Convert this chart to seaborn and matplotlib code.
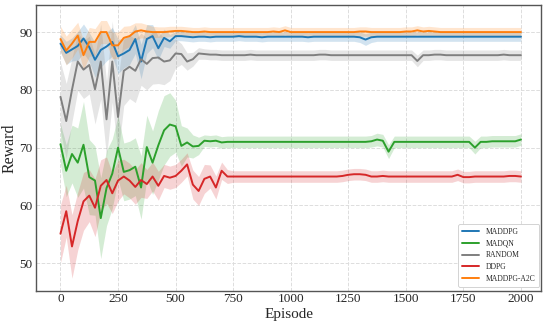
"""
Reward curves per algorithm over training episodes
- mean reward line per algorithm with a shaded spread band
- saves out.png
"""

import numpy as np
import pandas as pd
import matplotlib
matplotlib.use("Agg")
import matplotlib.pyplot as plt
import seaborn as sns

# -----------------------------
# Data (one point every 25 episodes)
# -----------------------------
episodes = list(range(0, 2001, 25))
algorithms = ["MADDPG", "MADQN", "RANDOM", "DDPG", "MADDPG-A2C"]
colors = ["#1f77b4", "#2ca02c", "#7f7f7f", "#d62728", "#ff7f0e"]

maddpg = [
    88.0, 86.4, 87.0, 87.6, 88.9, 87.4, 85.2, 86.9, 87.5, 88.3,
    85.8, 86.3, 86.9, 88.8, 84.9, 88.8, 89.3, 87.2, 89.0, 88.4,
    89.3, 89.3, 89.2, 89.1, 89.2, 89.2, 89.1, 89.2, 89.2, 89.2,
    89.2, 89.3, 89.2, 89.2, 89.2, 89.1, 89.2, 89.2, 89.2, 89.2,
    89.2, 89.2, 89.2, 89.1, 89.2, 89.2, 89.2, 89.2, 89.2, 89.2,
    89.2, 89.2, 89.1, 88.7, 89.1, 89.2, 89.2, 89.2, 89.2, 89.2,
    89.2, 89.2, 89.2, 89.2, 89.2, 89.2, 89.2, 89.2, 89.2, 89.2,
    89.2, 89.2, 89.2, 89.2, 89.2, 89.2, 89.2, 89.2, 89.2, 89.2,
    89.2,
]
madqn = [
    70.6, 66.0, 68.9, 67.4, 70.5, 64.9, 64.3, 57.8, 63.0, 65.5,
    70.0, 65.8, 66.1, 66.7, 63.1, 70.1, 67.4, 70.4, 73.0, 74.0,
    73.7, 70.3, 70.9, 70.2, 70.3, 71.2, 71.1, 71.2, 70.9, 71.0,
    71.0, 71.0, 71.0, 71.0, 71.0, 71.0, 71.0, 71.0, 71.0, 71.0,
    71.0, 71.0, 71.0, 71.0, 71.0, 71.0, 71.0, 71.0, 71.0, 71.0,
    71.0, 71.0, 71.0, 71.0, 71.1, 71.4, 71.2, 69.3, 71.0, 71.0,
    71.0, 71.0, 71.0, 71.0, 71.0, 71.0, 71.0, 71.0, 71.0, 71.0,
    71.0, 71.0, 70.0, 71.0, 71.0, 71.1, 71.1, 71.1, 71.1, 71.1,
    71.4,
]
random_policy = [
    78.8, 74.6, 80.0, 84.9, 83.5, 84.3, 80.1, 84.9, 74.9, 84.9,
    75.3, 83.3, 84.0, 83.3, 85.3, 84.5, 85.5, 85.6, 84.9, 85.1,
    86.3, 86.2, 84.9, 85.3, 86.3, 86.2, 86.1, 86.1, 86.0, 86.0,
    86.0, 86.0, 86.0, 86.1, 86.0, 86.0, 86.0, 86.0, 86.0, 86.0,
    86.0, 86.0, 86.0, 86.0, 86.0, 86.1, 86.1, 86.0, 86.0, 86.0,
    86.0, 86.0, 86.0, 86.0, 86.0, 86.0, 86.0, 86.0, 86.0, 86.0,
    86.0, 86.0, 85.0, 86.0, 86.0, 86.1, 86.1, 86.0, 86.0, 86.0,
    86.0, 86.0, 86.0, 86.0, 86.0, 86.0, 86.0, 86.1, 86.0, 86.0,
    86.0,
]
ddpg = [
    55.1, 59.0, 52.9, 57.3, 60.7, 61.7, 59.6, 63.4, 64.4, 62.1,
    64.3, 65.0, 64.3, 63.2, 64.4, 63.7, 65.0, 63.4, 65.1, 64.8,
    65.1, 66.0, 67.1, 63.6, 62.5, 64.6, 65.0, 63.1, 66.0, 65.0,
    65.0, 65.0, 65.0, 65.0, 65.0, 65.0, 65.0, 65.0, 65.0, 65.0,
    65.0, 65.0, 65.0, 65.0, 65.0, 65.0, 65.0, 65.0, 65.0, 65.1,
    65.3, 65.4, 65.4, 65.3, 65.0, 65.0, 65.1, 65.0, 65.0, 65.0,
    65.0, 65.0, 65.0, 65.0, 65.0, 65.0, 65.0, 65.0, 65.0, 65.3,
    64.9, 64.9, 65.0, 65.0, 65.0, 65.0, 65.0, 65.0, 65.1, 65.1,
    65.0,
]
maddpg_a2c = [
    88.8, 86.8, 88.0, 89.4, 86.0, 88.3, 88.3, 90.0, 90.0, 87.7,
    87.7, 89.0, 89.3, 90.1, 90.3, 90.1, 90.0, 90.0, 90.0, 90.1,
    90.2, 90.2, 90.1, 90.0, 90.0, 90.1, 90.0, 90.0, 90.0, 90.0,
    90.0, 90.0, 90.0, 90.0, 90.0, 90.0, 90.0, 90.1, 90.0, 90.3,
    90.0, 90.0, 90.0, 90.0, 90.0, 90.0, 90.0, 90.0, 90.0, 90.0,
    90.0, 90.0, 90.1, 90.1, 90.0, 90.0, 90.0, 90.0, 90.0, 90.0,
    90.1, 90.1, 90.3, 90.1, 90.2, 90.1, 90.0, 90.0, 90.0, 90.0,
    90.0, 90.0, 90.0, 90.0, 90.0, 90.0, 90.0, 90.0, 90.0, 90.0,
    90.0,
]

# half width of the shaded band
maddpg_spread = [
    1.5, 2.0, 2.0, 2.5, 2.5, 2.5, 3.0, 3.0, 2.5, 2.5,
    3.0, 2.5, 2.5, 2.5, 3.0, 2.5, 2.0, 2.0, 1.5, 1.2,
    0.8, 0.8, 0.8, 0.8, 0.8, 0.8, 0.8, 0.8, 0.8, 0.8,
    0.8, 0.8, 0.8, 0.8, 0.8, 0.8, 0.8, 0.8, 0.8, 0.8,
    0.8, 0.8, 0.8, 0.8, 0.8, 0.8, 0.8, 0.8, 0.8, 0.8,
    0.8, 0.8, 0.9, 1.0, 0.9, 0.8, 0.8, 0.8, 0.8, 0.8,
    0.8, 0.8, 0.8, 0.8, 0.8, 0.8, 0.8, 0.8, 0.8, 0.8,
    0.8, 0.8, 0.8, 0.8, 0.8, 0.8, 0.8, 0.8, 0.8, 0.8,
    0.8,
]
madqn_spread = [
    3.5, 4.5, 5.0, 6.0, 7.5, 6.5, 6.0, 7.0, 6.5, 6.0,
    5.5, 5.0, 5.0, 5.0, 5.5, 5.5, 5.5, 6.0, 6.0, 5.5,
    4.5, 3.5, 2.5, 2.0, 1.5, 1.0, 1.0, 1.0, 1.0, 1.0,
    1.0, 1.0, 1.0, 1.0, 1.0, 1.0, 1.0, 1.0, 1.0, 1.0,
    1.0, 1.0, 1.0, 1.0, 1.0, 1.0, 1.0, 1.0, 1.0, 1.0,
    1.0, 1.0, 1.0, 1.0, 1.0, 1.1, 1.1, 1.2, 1.0, 1.0,
    1.0, 1.0, 1.0, 1.0, 1.0, 1.0, 1.0, 1.0, 1.0, 1.0,
    1.0, 1.0, 1.1, 1.0, 1.0, 1.0, 1.0, 1.0, 1.0, 1.0,
    1.0,
]
random_spread = [
    6.0, 6.5, 5.5, 5.0, 5.0, 5.0, 6.0, 6.5, 6.5, 7.0,
    6.5, 6.0, 5.5, 5.5, 4.5, 4.5, 4.5, 4.5, 4.0, 3.5,
    2.5, 1.8, 1.5, 1.2, 1.0, 0.9, 0.9, 0.9, 0.9, 0.9,
    0.9, 0.9, 0.9, 0.9, 0.9, 0.9, 0.9, 0.9, 0.9, 0.9,
    0.9, 0.9, 0.9, 0.9, 0.9, 0.9, 0.9, 0.9, 0.9, 0.9,
    0.9, 0.9, 0.9, 0.9, 0.9, 0.9, 0.9, 0.9, 0.9, 0.9,
    0.9, 0.9, 1.0, 0.9, 0.9, 0.9, 0.9, 0.9, 0.9, 0.9,
    0.9, 0.9, 0.9, 0.9, 0.9, 0.9, 0.9, 0.9, 0.9, 0.9,
    0.9,
]
ddpg_spread = [
    5.0, 4.5, 5.5, 5.0, 5.0, 4.5, 5.0, 4.5, 4.0, 3.5,
    3.5, 3.0, 3.0, 3.0, 3.0, 2.5, 2.5, 2.5, 2.0, 2.0,
    2.0, 2.0, 2.0, 2.5, 2.5, 2.5, 2.0, 2.0, 1.5, 1.2,
    1.0, 1.0, 1.0, 1.0, 1.0, 1.0, 1.0, 1.0, 1.0, 1.0,
    1.0, 1.0, 1.0, 1.0, 1.0, 1.0, 1.0, 1.0, 1.0, 1.0,
    1.0, 1.0, 1.0, 1.0, 1.0, 1.0, 1.0, 1.0, 1.0, 1.0,
    1.0, 1.0, 1.0, 1.0, 1.0, 1.0, 1.0, 1.0, 1.0, 1.0,
    1.0, 1.0, 1.0, 1.0, 1.0, 1.0, 1.0, 1.0, 1.0, 1.0,
    1.0,
]
maddpg_a2c_spread = [
    2.2, 2.5, 2.5, 2.3, 2.5, 2.5, 2.3, 2.0, 2.0, 2.3,
    2.3, 2.0, 1.8, 1.5, 1.3, 1.2, 1.0, 0.9, 0.9, 0.9,
    0.8, 0.8, 0.8, 0.8, 0.8, 0.8, 0.8, 0.8, 0.8, 0.8,
    0.8, 0.8, 0.8, 0.8, 0.8, 0.8, 0.8, 0.8, 0.8, 0.8,
    0.8, 0.8, 0.8, 0.8, 0.8, 0.8, 0.8, 0.8, 0.8, 0.8,
    0.8, 0.8, 0.8, 0.8, 0.8, 0.8, 0.8, 0.8, 0.8, 0.8,
    0.8, 0.8, 0.8, 0.8, 0.8, 0.8, 0.8, 0.8, 0.8, 0.8,
    0.8, 0.8, 0.8, 0.8, 0.8, 0.8, 0.8, 0.8, 0.8, 0.8,
    0.8,
]

means = [maddpg, madqn, random_policy, ddpg, maddpg_a2c]
spreads = [maddpg_spread, madqn_spread, random_spread, ddpg_spread, maddpg_a2c_spread]

# -----------------------------
# Long-form table for seaborn
# -----------------------------
frames = []
for name, m, s in zip(algorithms, means, spreads):
    frames.append(pd.DataFrame({
        "Episode": episodes,
        "Reward": m,
        "spread": s,
        "Algorithm": name,
    }))
df = pd.concat(frames, ignore_index=True)

# -----------------------------
# Plot
# -----------------------------
sns.set_theme(style="whitegrid")
plt.rcParams["font.family"] = ["Liberation Serif", "DejaVu Serif"]

fig, ax = plt.subplots(figsize=(5.5, 3.28), dpi=100)
fig.subplots_adjust(left=0.066, right=0.984, top=0.985, bottom=0.113)

palette = dict(zip(algorithms, colors))
for name in algorithms:
    d = df[df["Algorithm"] == name]
    ax.fill_between(d["Episode"], d["Reward"] - d["spread"], d["Reward"] + d["spread"],
                    color=palette[name], alpha=0.2, linewidth=0)

sns.lineplot(data=df, x="Episode", y="Reward", hue="Algorithm", hue_order=algorithms,
             palette=palette, linewidth=1.4, errorbar=None, ax=ax)

ax.set_xlim(-105, 2088)
ax.set_ylim(45.2, 94.7)
ax.set_xticks([0, 250, 500, 750, 1000, 1250, 1500, 1750, 2000])
ax.set_yticks([50, 60, 70, 80, 90])
ax.tick_params(axis="x", labelsize=9.5, pad=1.5, length=0)
ax.tick_params(axis="y", labelsize=9.5, pad=2.5, length=0)
ax.set_xlabel("Episode", fontsize=11, labelpad=2)
ax.set_ylabel("Reward", fontsize=11.5, labelpad=1.5)

ax.grid(True, linestyle="--", color="#dddddd", linewidth=0.7)
for spine in ax.spines.values():
    spine.set_edgecolor("#555555")
    spine.set_linewidth(1.0)

leg = ax.legend(loc="lower right", bbox_to_anchor=(0.996, 0.015), borderaxespad=0,
                fontsize=5.5, frameon=True, framealpha=1, edgecolor="#cccccc",
                handlelength=2.3, borderpad=0.5, labelspacing=0.48, handletextpad=0.8)
leg.get_frame().set_linewidth(0.6)

plt.savefig("out.png", dpi=100)
plt.close()
